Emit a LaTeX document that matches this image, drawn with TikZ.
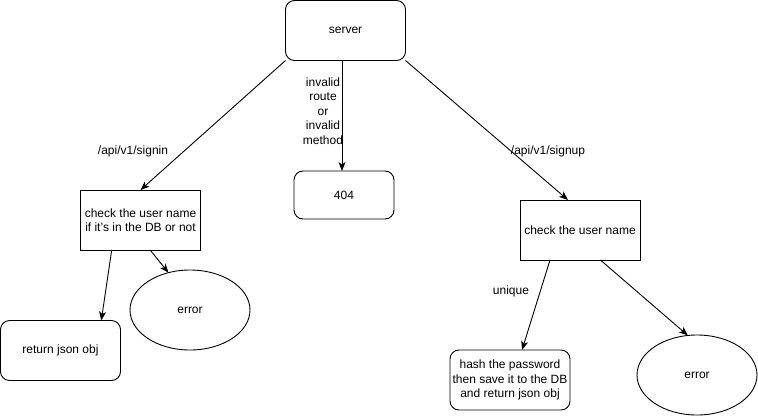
\documentclass[tikz,border=0pt]{standalone}
\usepackage{fontspec}
\setmainfont{Liberation Sans}
\usetikzlibrary{arrows.meta,shapes.geometric,calc}
\begin{document}
\begin{tikzpicture}[x=1pt,y=-1pt,
  every node/.style={font=\fontsize{12}{14.5}\selectfont, inner sep=0pt, outer sep=0pt},
  rbox/.style={draw, line width=0.9pt, rounded corners=9pt, minimum width=120pt, minimum height=60pt, align=center},
  sbox/.style={draw, line width=0.9pt, minimum width=120pt, minimum height=60pt, align=center},
  oval/.style={draw, line width=0.9pt, ellipse, minimum width=120pt, minimum height=80pt},
  flow/.style={draw, line width=0.9pt, -{Stealth[length=9pt,width=7pt,inset=2.5pt]}},
  lbl/.style={align=center}]
\useasboundingbox (0,0) rectangle (758,416);

% boxes
\node[rbox] (server) at (345.5,30.5) {server};
\node[rbox, minimum width=100pt, minimum height=48pt] (nf) at (344,195) {404};
\node[sbox] (chkin) at (140.5,220) {check the user name\\if it's in the DB or not};
\node[rbox] (json) at (60.5,350.5) {return json obj};
\node[oval] (errin) at (190,310) {error};
\node[sbox] (chkup) at (580,230) {check the user name};
\node[rbox] (hash) at (510,380) {hash the password\\then save it to the DB\\and return json obj};
\node[oval] (errup) at (697,375) {error};

% connectors
\draw[flow] (server.south west) -- (chkin.north);
\draw[flow] ($(server.south)+(-3.5,0)$) -- ($(nf.north)+(-2,0)$);
\draw[flow] (server.south east) -- ($(chkup.north west)!0.4!(chkup.north east)$);
\draw[flow] ($(chkin.south west)!0.26!(chkin.south east)$) -- ($(json.north west)!0.84!(json.north east)$);
\draw[flow] ($(chkin.south west)!0.58!(chkin.south east)$) -- (errin.120);
\draw[flow] ($(chkup.south west)!0.25!(chkup.south east)$) -- ($(hash.north west)!0.6!(hash.north east)$);
\draw[flow] ($(chkup.south west)!0.67!(chkup.south east)$) -- (errup.103);

% connector labels
\node[lbl] (lsignin) at (133,151) {/api/v1/signin};
\node[lbl] (linv) at (323,111) {invalid\\route\\or\\invalid\\method};
\node[lbl] (lsignup) at (548,151) {/api/v1/signup};
\node[lbl] (luniq) at (511,291) {unique};
\end{tikzpicture}
\end{document}
